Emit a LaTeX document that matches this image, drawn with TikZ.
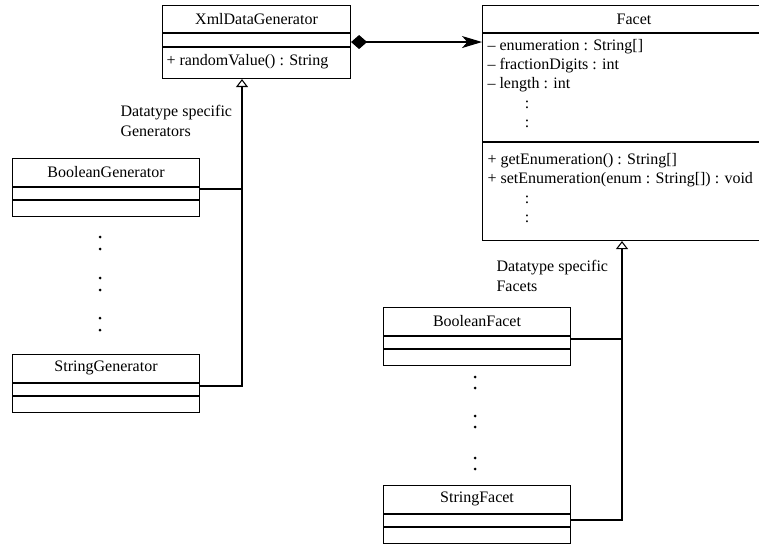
\documentclass[tikz,border=0pt]{standalone}
\usepackage{fontspec}
\setmainfont{Liberation Serif}
\usetikzlibrary{arrows.meta,calc}
\begin{document}
\begin{tikzpicture}[x=0.75pt,y=-0.75pt,line width=0.8pt,
  every node/.style={font=\fontsize{12}{15}\selectfont},
  bigbox/.style={draw,rectangle,anchor=north west,inner sep=0pt},
  smallbox/.style={draw,rectangle,anchor=north west,inner sep=0pt,
    minimum width=140.25pt,minimum height=43.5pt},
  member/.style={anchor=base west,inner sep=0pt},
  ellip/.style={anchor=base,inner sep=0pt},
  note/.style={anchor=north west,align=left,inner sep=0pt},
  composition/.style={{Diamond[length=12pt,width=10.5pt]}-{Stealth[length=15pt,width=9pt,inset=4pt]}},
  generalization/.style={-{Triangle[open,length=6pt,width=9pt,fill=white]}},
  dot/.style={fill=black}
]
\useasboundingbox (0,0) rectangle (759,545);
\clip (0,0) rectangle (759,545);

% ---------- XmlDataGenerator ----------
\node[bigbox,minimum width=141pt,minimum height=54.75pt] (xml) at (162,5) {};
\draw ($(xml.north west)+(0,28)$) -- ($(xml.north east)+(0,28)$);
\draw ($(xml.north west)+(0,42)$) -- ($(xml.north east)+(0,42)$);
\node (xmlname) at ($(xml.north)+(0,14)$) {XmlDataGenerator};
\node[member] (xmlop) at ($(xml.north west)+(4,61)$) {+ randomValue() : String};

% ---------- Facet ----------
\node[bigbox,minimum width=227.25pt,minimum height=176.25pt] (facet) at (482,5) {};
\draw ($(facet.north west)+(0,28)$) -- ($(facet.north east)+(0,28)$);
\draw ($(facet.north west)+(0,137)$) -- ($(facet.north east)+(0,137)$);
\node (facetname) at ($(facet.north)+(0,14)$) {Facet};
\node[member] (fa1) at (487,51) {\textendash\ enumeration : String[]};
\node[member] (fa2) at (487,70) {\textendash\ fractionDigits : int};
\node[member] (fa3) at (487,89) {\textendash\ length : int};
\node[ellip] (fa4) at (527,109) {:};
\node[ellip] (fa5) at (527,128) {:};
\node[member] (fo1) at (487,165) {+ getEnumeration() : String[]};
\node[member] (fo2) at (487,184) {+ setEnumeration(enum : String[]) : void};
\node[ellip] (fo3) at (527,204) {:};
\node[ellip] (fo4) at (527,223) {:};

% ---------- generator classes ----------
\node[smallbox] (bgen) at (12,158) {};
\draw ($(bgen.north west)+(0,29)$) -- ($(bgen.north east)+(0,29)$);
\draw ($(bgen.north west)+(0,42)$) -- ($(bgen.north east)+(0,42)$);
\node (bgenname) at ($(bgen.north)+(0,14)$) {BooleanGenerator};

\node[smallbox] (sgen) at (12,354) {};
\draw ($(sgen.north west)+(0,29)$) -- ($(sgen.north east)+(0,29)$);
\draw ($(sgen.north west)+(0,42)$) -- ($(sgen.north east)+(0,42)$);
\node (sgenname) at ($(sgen.north)+(0,14)$) {StringGenerator};

\foreach \y in {237,278,318} {
  \fill[dot] (100,\y) circle (1.5);
  \fill[dot] (100,\y+12) circle (1.5);
}

\node[note] (gennote) at (120,105) {Datatype specific\\Generators};

% ---------- facet classes ----------
\node[smallbox] (bfacet) at (383,307) {};
\draw ($(bfacet.north west)+(0,29)$) -- ($(bfacet.north east)+(0,29)$);
\draw ($(bfacet.north west)+(0,42)$) -- ($(bfacet.north east)+(0,42)$);
\node (bfacetname) at ($(bfacet.north)+(0,14)$) {BooleanFacet};

\node[smallbox] (sfacet) at (383,485) {};
\draw ($(sfacet.north west)+(0,29)$) -- ($(sfacet.north east)+(0,29)$);
\draw ($(sfacet.north west)+(0,42)$) -- ($(sfacet.north east)+(0,42)$);
\node (sfacetname) at ($(sfacet.north)+(0,14)$) {StringFacet};

\foreach \y in {377,416,458} {
  \fill[dot] (475,\y) circle (1.5);
  \fill[dot] (475,\y+11) circle (1.5);
}

\node[note] (facetnote) at (496,260) {Datatype specific\\Facets};

% ---------- connectors ----------
\draw[composition] (xml.east) -- (xml.east -| facet.west);

\coordinate (xmlbase) at ($(xml.south west)+(80,0)$);
\coordinate (bgenjoin) at ($(bgen.north east)+(0,31)$);
\coordinate (sgenjoin) at ($(sgen.north east)+(0,32)$);
\draw[generalization] (sgenjoin) -| (xmlbase);
\draw (bgenjoin) -- (bgenjoin -| xmlbase);

\coordinate (facetbase) at ($(facet.south west)+(140,0)$);
\coordinate (bfacetjoin) at ($(bfacet.north east)+(0,32)$);
\coordinate (sfacetjoin) at ($(sfacet.north east)+(0,35)$);
\draw[generalization] (sfacetjoin) -| (facetbase);
\draw (bfacetjoin) -- (bfacetjoin -| facetbase);
\end{tikzpicture}
\end{document}
